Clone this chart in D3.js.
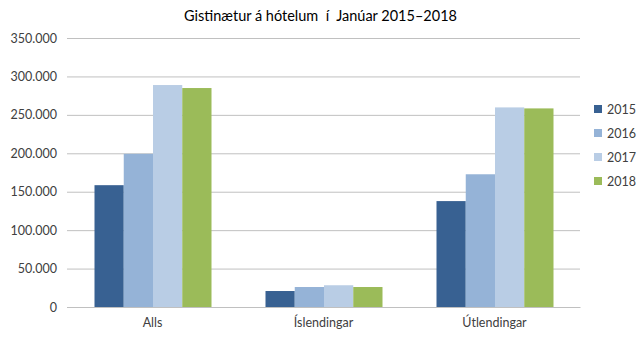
<!DOCTYPE html>
<html><head><meta charset="utf-8">
<script src="https://cdn.jsdelivr.net/npm/d3@7"></script>
<style>body{margin:0;background:#fff}svg{display:block;font-family:Lato,"Open Sans",sans-serif}</style>
</head><body><svg id="c" width="643" height="340"></svg>
<script>
const categories = ["Alls", "Íslendingar", "Útlendingar"];
const years = ["2015", "2016", "2017", "2018"];
const v2015 = [158500, 20800, 137800];
const v2016 = [199300, 26000, 172700];
const v2017 = [288800, 28300, 259700];
const v2018 = [284900, 26000, 258400];
const yTicks = [0, 50000, 100000, 150000, 200000, 250000, 300000, 350000];
const colors = ["#386192", "#95b3d7", "#b9cde5", "#9bbb59"];
const series = [v2015, v2016, v2017, v2018];

const svg = d3.select("#c");
const L = 67, R = 580, T = 38, B = 307;
const x = d3.scaleBand().domain(categories).range([L, R]).paddingInner(0).paddingOuter(0);
const y = d3.scaleLinear().domain([0, 350000]).range([B, T]);
const fmt = v => d3.format(",")(v).replace(/,/g, ".");

const title = svg.append("text").attr("x", 320.5).attr("y", 20.5).attr("text-anchor", "middle")
  .attr("font-size", 14.5).attr("fill", "#000").style("white-space", "pre")
  .text("Gistinætur á hótelum  í  Janúar 2015–2018");
const tw = title.node().getComputedTextLength();
if (Math.abs(tw - 271) > 3) title.attr("textLength", 271).attr("lengthAdjust", "spacing");

const ya = svg.append("g").attr("transform", `translate(${L},0)`)
  .call(d3.axisLeft(y).tickValues(yTicks).tickFormat(fmt).tickSize(-(R - L)).tickPadding(10));
ya.select(".domain").remove();
ya.selectAll(".tick line").attr("stroke", "#c0c0c0");
ya.selectAll(".tick text").attr("fill", "#404040").attr("font-size", 12.5).attr("font-family", "Lato");

const groupW = 117;
const inner = d3.scaleBand().domain(years).range([0, groupW]);
categories.forEach((c, ci) => {
  const cx = x(c) + x.bandwidth() / 2 - groupW / 2 + 0.5;
  years.forEach((yr, si) => {
    const v = series[si][ci];
    svg.append("rect").attr("x", cx + inner(yr)).attr("width", inner.bandwidth())
      .attr("y", y(v)).attr("height", y(0) - y(v)).attr("fill", colors[si]);
  });
});

const xa = svg.append("g").attr("transform", `translate(0,${B})`)
  .call(d3.axisBottom(x).tickSize(0).tickPadding(11));
xa.select(".domain").attr("stroke", "#c0c0c0");
xa.selectAll(".tick text").attr("fill", "#404040").attr("font-size", 12.5).attr("font-family", "Lato");

const lg = svg.append("g");
years.forEach((yr, i) => {
  const gy = 109 + i * 24;
  lg.append("rect").attr("x", 594).attr("y", gy - 4).attr("width", 8).attr("height", 8).attr("fill", colors[i]);
  lg.append("text").attr("x", 607).attr("y", gy + 4.5).attr("font-size", 12.5).attr("fill", "#404040").text(yr);
});
</script></body></html>
